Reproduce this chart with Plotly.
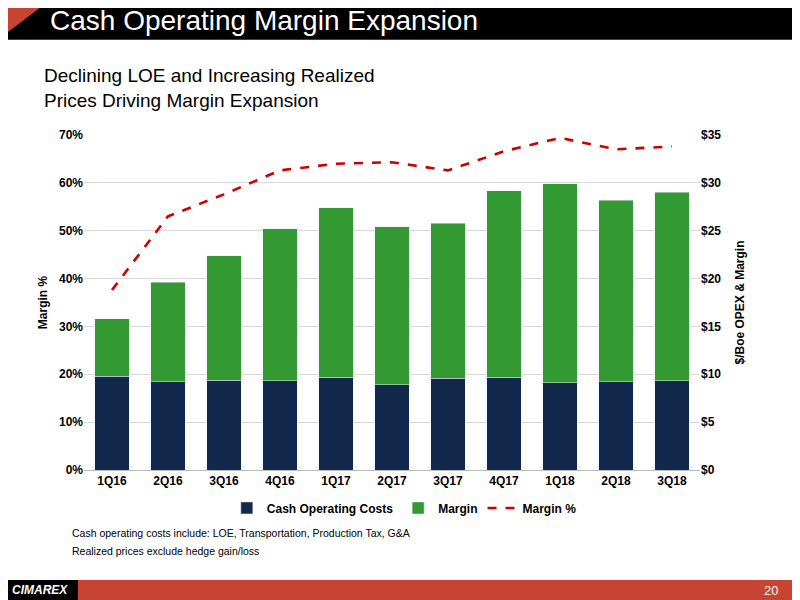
import plotly.graph_objects as go

quarters = ["1Q16", "2Q16", "3Q16", "4Q16", "1Q17", "2Q17", "3Q17", "4Q17", "1Q18", "2Q18", "3Q18"]
cash_costs = [9.8, 9.2, 9.4, 9.3, 9.7, 8.9, 9.6, 9.7, 9.1, 9.2, 9.3]
totals = [15.8, 19.6, 22.4, 25.2, 27.4, 25.4, 25.8, 29.2, 29.9, 28.2, 29.0]
margins = [t - c for t, c in zip(totals, cash_costs)]
margin_pct = [37.6, 53.0, 57.6, 62.6, 64.0, 64.3, 62.6, 66.6, 69.4, 67.0, 67.6]

navy = "#13294b"
green = "#339933"
red = "#cc0000"

fig = go.Figure()
fig.add_trace(go.Bar(x=quarters, y=cash_costs, name="Cash Operating Costs",
                     marker_color=navy, yaxis="y2", width=0.62))
fig.add_trace(go.Bar(x=quarters, y=margins, name="Margin",
                     marker_color=green, yaxis="y2", width=0.62))
fig.add_trace(go.Scatter(x=quarters, y=margin_pct, name="Margin %", mode="lines",
                         line=dict(color=red, width=2.6, dash="dash"), cliponaxis=False))

font = dict(family="Liberation Sans, Arial", size=12, color="#000")
tickf = dict(size=12, color="#000", family="Liberation Sans", weight="bold")

fig.update_layout(
    width=800, height=600, barmode="stack", plot_bgcolor="white", paper_bgcolor="white",
    margin=dict(l=76, r=108, t=127, b=138),
    font=font,
    xaxis=dict(showline=True, linecolor="#bbb", tickfont=tickf),
    yaxis=dict(range=[0, 70], dtick=10, ticksuffix="%", showgrid=True, gridcolor="#d9d9d9",
               title=dict(text="<b>Margin %</b>", font=dict(size=12), standoff=8),
               tickfont=tickf, zeroline=False, tickformat="d"),
    yaxis2=dict(range=[0, 35], dtick=5, tickprefix="$", overlaying="y", side="right",
                showgrid=False, title=dict(text="<b>$/Boe OPEX & Margin</b>", font=dict(size=12)),
                tickfont=tickf),
    legend=dict(orientation="h", x=0.52, xanchor="center", y=-0.07, yanchor="top",
                font=dict(size=12, weight="bold"), traceorder="normal"),
    shapes=[
        dict(type="rect", xref="paper", yref="paper", x0=-0.14, x1=1.2, y0=1.284, y1=1.5,
             fillcolor="black", line_width=0, layer="below"),
        dict(type="path", xref="paper", yref="paper",
             path="M -0.14 1.41 L -0.05 1.41 L -0.14 1.284 Z", fillcolor="#c84432", line_width=0),
        dict(type="rect", xref="paper", yref="paper", x0=-0.14, x1=1.2, y0=-0.45, y1=-0.328,
             fillcolor="#c84432", line_width=0),
        dict(type="rect", xref="paper", yref="paper", x0=-0.14, x1=-0.01, y0=-0.45, y1=-0.328,
             fillcolor="black", line_width=0),
    ],
    annotations=[
        dict(text="Cash Operating Margin Expansion", xref="paper", yref="paper", x=-0.059, y=1.343,
             xanchor="left", yanchor="middle", showarrow=False,
             font=dict(size=28, color="white", family="Liberation Sans")),
        dict(text="Declining LOE and Increasing Realized<br>Prices Driving Margin Expansion",
             xref="paper", yref="paper", x=-0.068, y=1.065, xanchor="left", yanchor="bottom",
             align="left", showarrow=False, font=dict(size=19, color="#000", family="Liberation Sans")),
        dict(text="Cash operating costs include: LOE, Transportation, Production Tax, G&A",
             xref="paper", yref="paper", x=-0.022, y=-0.212, xanchor="left", showarrow=False,
             font=dict(size=10.5, color="#000")),
        dict(text="Realized prices exclude hedge gain/loss",
             xref="paper", yref="paper", x=-0.022, y=-0.265, xanchor="left", showarrow=False,
             font=dict(size=10.5, color="#000")),
        dict(text="<b><i>CIMAREX</i></b>", xref="paper", yref="paper", x=-0.12, y=-0.359,
             xanchor="left", yanchor="middle", showarrow=False,
             font=dict(size=12, color="white")),
        dict(text="20", xref="paper", yref="paper", x=1.13, y=-0.359,
             xanchor="right", yanchor="middle", showarrow=False,
             font=dict(size=13, color="white")),
    ],
)

fig.write_html("out.html")
